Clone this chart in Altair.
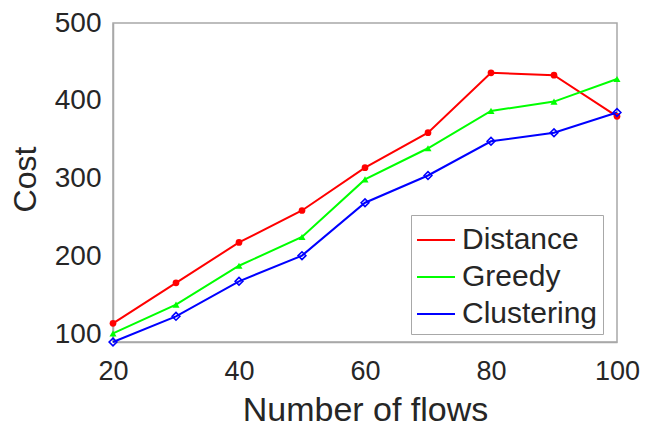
import altair as alt
import pandas as pd

flows = [20, 30, 40, 50, 60, 70, 80, 90, 100]
distance = [114, 166, 218, 259, 314, 359, 436, 433, 380]
greedy = [101, 138, 188, 225, 299, 339, 387, 399, 428]
clustering = [90, 123, 168, 201, 269, 304, 348, 359, 385]

series_names = ["Distance", "Greedy", "Clustering"]
series_colors = ["#ff0000", "#00ff00", "#0000ff"]

rows = []
for name, vals in zip(series_names, [distance, greedy, clustering]):
    for f, v in zip(flows, vals):
        rows.append({"flows": f, "cost": v, "method": name})
df = pd.DataFrame(rows)

FONT = "Liberation Sans"
TXT = "#262626"
GRAY = "#a8a8a8"

x = alt.X("flows:Q",
          scale=alt.Scale(domain=[20, 100], nice=False),
          axis=alt.Axis(values=[20, 40, 60, 80, 100], title="Number of flows",
                        grid=False, ticks=False, labelPadding=16,
                        labelFlush=False, labelOverlap=False,
                        labelFontSize=27, titleFontSize=34,
                        titleFontWeight="normal", titleY=78,
                        titleBaseline="alphabetic",
                        domainColor=GRAY, domainWidth=1.5,
                        labelColor=TXT, titleColor=TXT,
                        labelFont=FONT, titleFont=FONT))
y = alt.Y("cost:Q",
          scale=alt.Scale(domain=[90, 500], nice=False, zero=False),
          axis=alt.Axis(values=[100, 200, 300, 400, 500], title="Cost",
                        grid=False, ticks=False, labelPadding=12,
                        labelFlush=False, labelOverlap=False,
                        labelFontSize=28, titleFontSize=32,
                        titleFontWeight="normal",
                        titleX=-88, titleY=156, titleAngle=270,
                        titleAlign="center", titleBaseline="middle",
                        domainColor=GRAY, domainWidth=1.5,
                        labelColor=TXT, titleColor=TXT,
                        labelFont=FONT, titleFont=FONT))

color_scale = alt.Scale(domain=series_names, range=series_colors)

lines = alt.Chart(df).mark_line(strokeWidth=2).encode(
    x=x, y=y,
    color=alt.Color("method:N", scale=color_scale, sort=series_names,
                    legend=alt.Legend(title=None, orient="none",
                                      legendX=298, legendY=192,
                                      symbolType="stroke", symbolSize=1444,
                                      symbolStrokeWidth=2,
                                      labelFontSize=30, labelFont=FONT,
                                      labelColor=TXT, labelOffset=6,
                                      rowPadding=2, padding=5,
                                      strokeColor=GRAY, fillColor="white")),
    detail="method:N",
)

dist_pts = alt.Chart(df).transform_filter(
    alt.datum.method == "Distance"
).mark_point(filled=True, opacity=1, size=45, shape="circle",
             color=series_colors[0]).encode(x=x, y=y)

greedy_pts = alt.Chart(df).transform_filter(
    alt.datum.method == "Greedy"
).mark_point(filled=True, opacity=1, size=50, shape="triangle-up",
             color=series_colors[1]).encode(x=x, y=y)

clus_pts = alt.Chart(df).transform_filter(
    alt.datum.method == "Clustering"
).mark_point(filled=False, opacity=1, size=60, strokeWidth=1.6,
             shape="diamond", color=series_colors[2]).encode(x=x, y=y)

chart = alt.layer(lines, dist_pts, greedy_pts, clus_pts).properties(
    width=504, height=319,
    autosize=alt.AutoSizeParams(type="none"),
    padding={"left": 105, "top": 15, "right": 23, "bottom": 84},
).configure_view(stroke=GRAY, strokeWidth=1.5)

chart.save("out.html", embed_options={"renderer": "svg", "actions": False})
